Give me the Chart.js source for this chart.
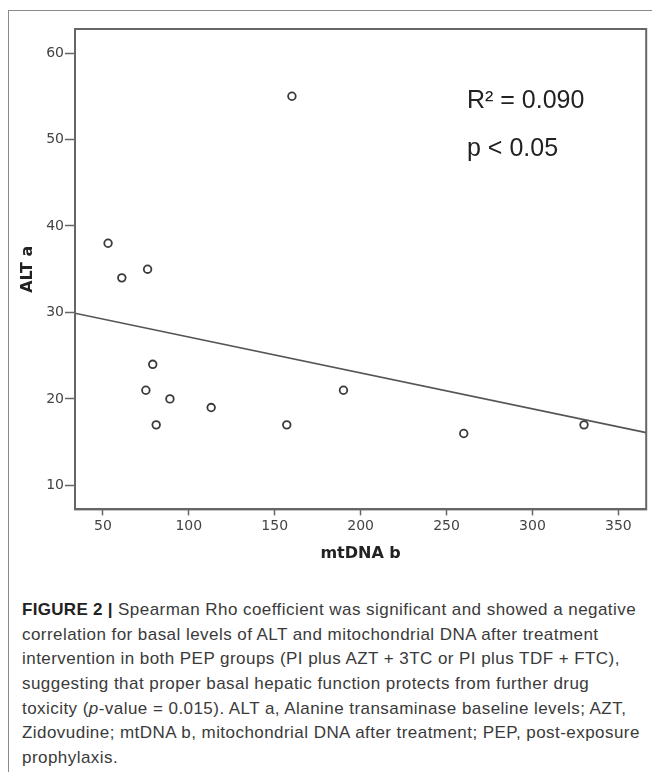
<!DOCTYPE html>
<html>
<head>
<meta charset="utf-8">
<script src="https://cdn.jsdelivr.net/npm/chart.js@4.4.1/dist/chart.umd.min.js"></script>
<style>
  html, body { margin: 0; padding: 0; background: #fff; }
  body { width: 652px; height: 772px; position: relative; overflow: hidden; }
  #marco { position: absolute; left: 8px; top: 10px; right: -4px; bottom: -4px;
           border-top: 1.5px solid #8a8a8a; border-left: 1.5px solid #8a8a8a; }
  #grafica { position: absolute; left: 0; top: 0; }
  #pie { position: absolute; left: 22px; top: 598px; font-family: "Liberation Sans", Arial, sans-serif;
         font-size: 17px; letter-spacing: 0.45px; line-height: 24.67px; color: #3a3a3a; white-space: nowrap; }
  #pie b { color: #222; letter-spacing: 0.3px; }
</style>
</head>
<body>
<div id="marco"></div>
<canvas id="grafica" width="652" height="580"></canvas>
<div id="pie">
  <div><b>FIGURE 2 |</b> Spearman Rho coefficient was significant and showed a negative</div>
  <div>correlation for basal levels of ALT and mitochondrial DNA after treatment</div>
  <div>intervention in both PEP groups (PI plus AZT + 3TC or PI plus TDF + FTC),</div>
  <div>suggesting that proper basal hepatic function protects from further drug</div>
  <div>toxicity (<i>p</i>-value = 0.015). ALT a, Alanine transaminase baseline levels; AZT,</div>
  <div>Zidovudine; mtDNA b, mitochondrial DNA after treatment; PEP, post-exposure</div>
  <div>prophylaxis.</div>
</div>
<script>
// mtDNA (eje x) y ALT (eje y) de cada paciente
const mtDNA = [160, 53, 61, 76, 79, 75, 89, 81, 113, 157, 190, 260, 330];
const ALT   = [55, 38, 34, 35, 24, 21, 20, 17, 19, 17, 21, 16, 17];

// recta de regresión: extremos
const rectaX = [33.75, 366.2];
const rectaY = [29.9, 16.1];

// marcas de los ejes
const ticksX = [50, 100, 150, 200, 250, 300, 350];
const ticksY = [10, 20, 30, 40, 50, 60];

const textoR2 = "R\u00B2 = 0.090";
const textoP = "p < 0.05";

const grafica = document.getElementById("grafica");

// marco completo del área y textos del ajuste
const extras = {
    id: 'extras',
    afterDraw(chart) {
        const {ctx, chartArea: a} = chart;
        ctx.save();
        ctx.strokeStyle = '#666';
        ctx.lineWidth = 2;
        ctx.strokeRect(a.left, a.top, a.right - a.left, a.bottom - a.top);
        ctx.fillStyle = '#222';
        ctx.font = '25px "Liberation Sans", Arial, sans-serif';
        ctx.textBaseline = 'alphabetic';
        ctx.fillText(textoR2, a.left + 392, a.top + 79);
        ctx.fillText(textoP, a.left + 392, a.top + 127);
        ctx.restore();
    }
};

const fuenteTicks = { family: 'DejaVu Sans', size: 14 };
const fuenteTitulo = { family: 'DejaVu Sans', size: 16, weight: 'bold' };

new Chart(grafica, {
    type: 'scatter',
    data: {
        datasets: [{
            label: 'ALT vs mtDNA',
            data: mtDNA.map((x, i) => ({x: x, y: ALT[i]})),
            pointStyle: 'circle',
            pointRadius: 3.8,
            pointBorderWidth: 1.8,
            borderColor: '#3a3a3a',
            backgroundColor: 'rgba(255,255,255,0)',
        }, {
            type: 'line',
            label: 'Ajuste',
            data: rectaX.map((x, i) => ({x: x, y: rectaY[i]})),
            borderColor: '#555',
            borderWidth: 1.6,
            pointRadius: 0,
            fill: false,
        }]
    },
    options: {
        responsive: false,
        animation: false,
        layout: { padding: { top: 29, right: 4, left: 14, bottom: 13 } },
        plugins: { legend: { display: false }, tooltip: { enabled: false } },
        scales: {
            x: {
                type: 'linear',
                min: 33.75, max: 366.2,
                afterBuildTicks: s => { s.ticks = ticksX.map(v => ({value: v})); },
                afterFit: s => { s.height = 57.6; },
                ticks: { font: fuenteTicks, color: '#444', padding: 3, maxRotation: 0 },
                grid: { drawOnChartArea: false, tickLength: 6, tickColor: '#666', tickWidth: 1.5 },
                border: { display: true, color: '#666', width: 2 },
                title: { display: true, text: 'mtDNA b', font: fuenteTitulo, color: '#222' }
            },
            y: {
                type: 'linear',
                min: 7.22, max: 62.78,
                afterBuildTicks: s => { s.ticks = ticksY.map(v => ({value: v})); },
                afterFit: s => { s.width = 61; },
                ticks: { font: fuenteTicks, color: '#444', padding: 1 },
                grid: { drawOnChartArea: false, tickLength: 10, tickColor: '#666', tickWidth: 1.5 },
                border: { display: true, color: '#666', width: 2 },
                title: { display: true, text: 'ALT a', font: fuenteTitulo, color: '#222' }
            }
        }
    },
    plugins: [extras]
});
</script>
</body>
</html>
